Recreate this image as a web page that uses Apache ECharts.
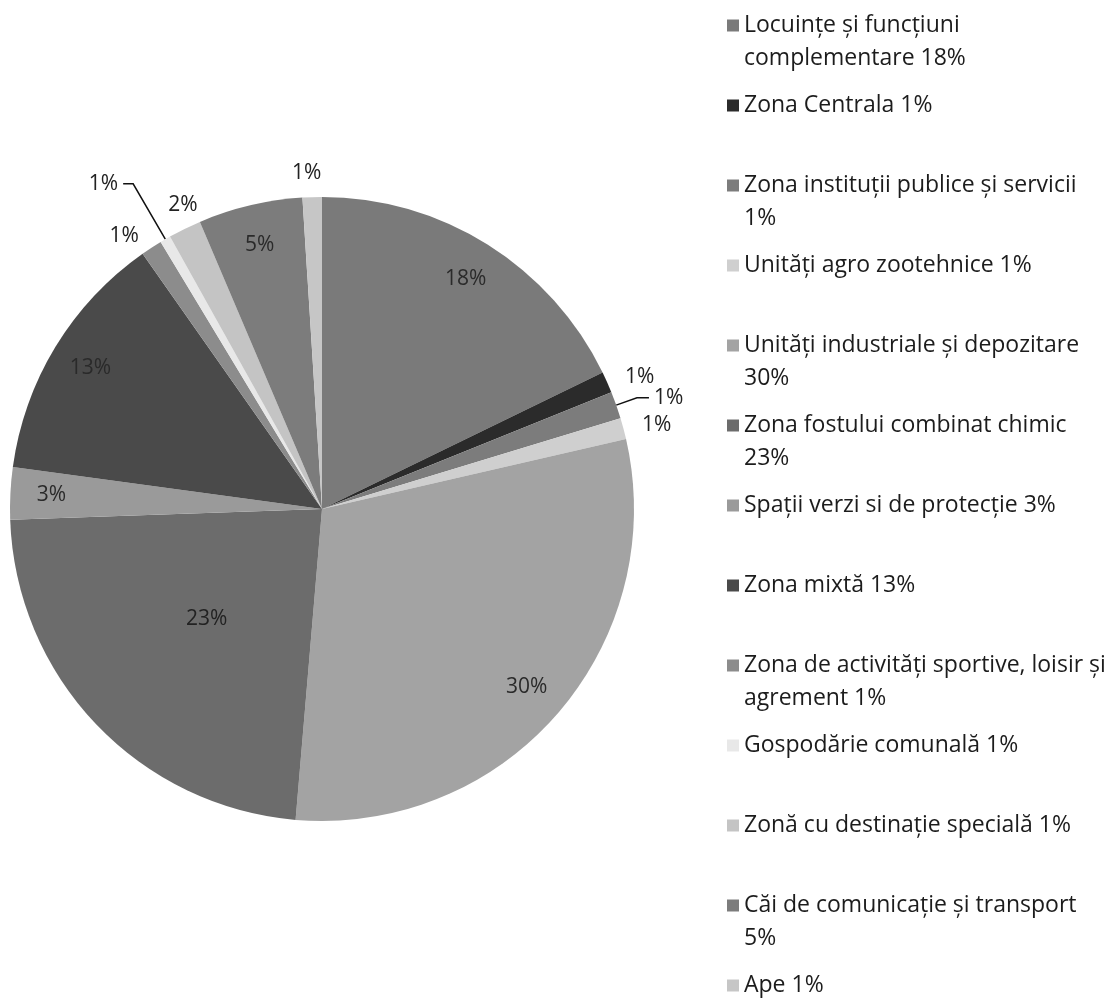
<!DOCTYPE html>
<html><head><meta charset="utf-8">
<script src="https://cdn.jsdelivr.net/npm/echarts@6/dist/echarts.min.js"></script>
<style>html,body{margin:0;padding:0;background:#fff}#c{width:1117px;height:1003px}</style>
</head><body><div id="c"></div>
<script>
// Data (clockwise from 12 o'clock)
const categories = [
  'Locuințe și funcțiuni complementare 18%',
  'Zona Centrala 1%',
  'Zona instituții publice și servicii 1%',
  'Unități agro zootehnice 1%',
  'Unități industriale și depozitare 30%',
  'Zona fostului combinat chimic 23%',
  'Spații verzi si de protecție 3%',
  'Zona mixtă 13%',
  'Zona de activități sportive, loisir și agrement 1%',
  'Gospodărie comunală 1%',
  'Zonă cu destinație specială 1%',
  'Căi de comunicație și transport 5%',
  'Ape 1%'
];
const legendLabels = [
  'Locuințe și funcțiuni\ncomplementare 18%',
  'Zona Centrala 1%',
  'Zona instituții publice și servicii\n1%',
  'Unități agro zootehnice 1%',
  'Unități industriale și depozitare\n30%',
  'Zona fostului combinat chimic\n23%',
  'Spații verzi si de protecție 3%',
  'Zona mixtă 13%',
  'Zona de activități sportive, loisir și\nagrement 1%',
  'Gospodărie comunală 1%',
  'Zonă cu destinație specială 1%',
  'Căi de comunicație și transport\n5%',
  'Ape 1%'
];
const values = [17.8, 1.1, 1.4, 1.1, 29.95, 23.1, 2.7, 13.1, 1.1, 0.55, 1.7, 5.4, 1.0];

// Styling
const palette = ['#7a7a7a','#2b2b2b','#7c7c7c','#cfcfcf','#a3a3a3','#6c6c6c','#9a9a9a','#4a4a4a','#8c8c8c','#e8e8e8','#c4c4c4','#7c7c7c','#c6c6c6'];
const FONT = '"Open Sans", sans-serif';
const smallLimit = 2.5;
const midLabelIdx = [5];
const leaderIdx = { 2: [22, 12], 9: [64, 10] };
const alignOverride = { 10: { align: 'left' }, 12: { align: 'center', verticalAlign: 'bottom' } };
const CENTER = [322, 509], R = 312;

const fmt = p => Math.round(p.value) + '%';

const mainData = categories.map((n, i) => {
  const small = values[i] < smallLimit;
  const lead = leaderIdx[i];
  return {
    name: n, value: values[i],
    label: { show: small || midLabelIdx.includes(i), position: small ? 'outside' : 'inside' },
    labelLine: { show: !!lead, length: lead ? lead[0] : (i === 10 ? 26 : 14), length2: lead ? lead[1] : 0 }
  };
});
const ringData = categories.map((n, i) => ({
  name: n, value: values[i],
  label: { show: values[i] >= smallLimit && !midLabelIdx.includes(i) }
}));

const chart = echarts.init(document.getElementById('c'), null, { renderer: 'canvas' });
chart.setOption({
  animation: false,
  color: palette,
  legend: {
    type: 'plain', orient: 'vertical', left: 727, top: -24, height: 1120, width: 400,
    padding: 0, itemGap: -19,
    itemWidth: 12, itemHeight: 12, icon: 'rect',
    data: categories,
    formatter: name => {
      const t = legendLabels[categories.indexOf(name)];
      return t.indexOf('\n') >= 0 ? '\n' + t : '\n' + t + '\n';
    },
    textStyle: { fontFamily: FONT, fontSize: 23, lineHeight: 33, color: '#1c1c1c' }
  },
  series: [
    {
      type: 'pie', center: CENTER, radius: [0, R], startAngle: 90, clockwise: true,
      avoidLabelOverlap: false, silent: true,
      data: mainData,
      label: { formatter: fmt, fontFamily: FONT, fontSize: 21, color: '#222' },
      labelLine: { lineStyle: { color: '#111', width: 1.5 } },
      labelLayout: p => alignOverride[p.dataIndex] || {},
      itemStyle: { borderWidth: 0 }
    },
    {
      type: 'pie', center: CENTER, radius: [224, R], startAngle: 90, clockwise: true,
      avoidLabelOverlap: false, silent: true,
      data: ringData,
      itemStyle: { color: 'transparent', borderWidth: 0 },
      label: { position: 'inside', formatter: fmt, fontFamily: FONT, fontSize: 21, color: '#2a2a2a' },
      labelLine: { show: false }
    }
  ]
});
</script></body></html>
